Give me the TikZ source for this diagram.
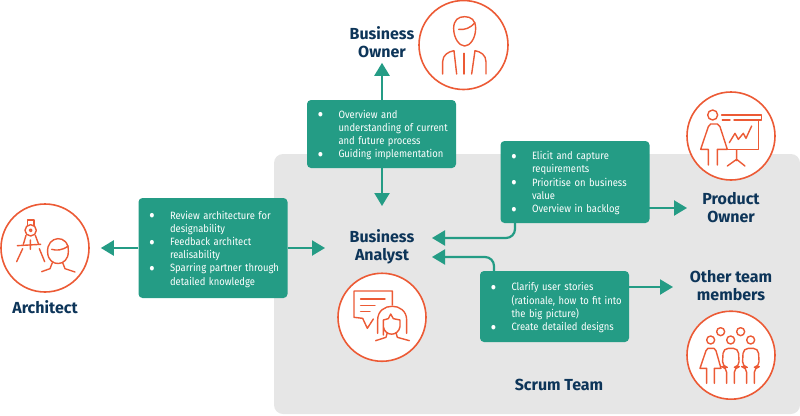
\documentclass[tikz,border=0pt]{standalone}
\usepackage{fontspec}
\usepackage{xcolor}
\setmainfont{Fira Sans}
\newfontfamily\boxfont[FakeStretch=0.89]{Fira Sans}
\usetikzlibrary{arrows.meta,positioning}
\definecolor{flowteal}{HTML}{249C85}
\definecolor{ringorange}{HTML}{EC5A35}
\definecolor{rolenavy}{HTML}{0D3559}
\definecolor{panelgrey}{HTML}{E6E6E6}
\newcommand{\bul}{\rule{0pt}{10.5pt}\makebox[26pt][l]{\hspace{8pt}\smash{\makebox[0pt]{\fontsize{20}{13.2}\selectfont\raisebox{-3.6pt}{\textbullet}}}}}
\newcommand{\cont}{\makebox[26pt]{}}

\begin{document}
\begin{tikzpicture}[x=1pt, y=-1pt,
    box/.style={rectangle, fill=flowteal, rounded corners=4pt, text=white, text width=138pt, inner xsep=5.5pt, inner ysep=0pt, align=left, font=\boxfont\fontsize{10.6}{13.2}\selectfont},
    ring/.style={circle, draw=ringorange, fill=white, line width=1.6pt, minimum size=88pt, inner sep=0pt},
    role/.style={text=rolenavy, align=center, inner sep=0pt, font=\fontsize{16}{18}\selectfont\bfseries},
    flow/.style={draw=flowteal, line width=2.2pt, -{Triangle[length=13pt,width=15pt]}},
    icon/.style={draw=ringorange, line width=1.4pt, line join=round, line cap=round},
    zoomed/.style={x=0.3333pt, y=-0.3333pt}]
    \useasboundingbox (0,0) rectangle (800,415);
    \fill[panelgrey, rounded corners=9pt] (274,154) rectangle (800,414);

    \node[ring] (archring) at (45,248) {};
    \node[role, below=8pt of archring] (archlabel) {Architect};
    \node[box, minimum height=100pt, right=48.5pt of archring] (archbox) {\bul Review architecture for\\\cont designability\\\bul Feedback architect\\\cont realisability\\\bul Sparring partner through\\\cont detailed knowledge};

    \node[role] (balabel) at (382,247) {Business\\Analyst};
    \node[ring, below=8pt of balabel] (baring) {};
    \coordinate (batop) at (432,238);
    \coordinate (balow) at (432,257);
    \coordinate (bawest) at (325,248);
    \coordinate (banorth) at (382,206);

    \node[role] (bolabel) at (382,42) {Business\\Owner};
    \node[ring, minimum size=89pt] (boring) at (463.5,45) {};
    \node[box, minimum height=68pt] (bobox) at (381.5,134) {\bul Overview and\\\cont understanding of current\\\cont and future process\\\bul Guiding implementation};

    \node[ring] (poring) at (731,136) {};
    \node[role, below=11pt of poring] (polabel) {Product\\Owner};
    \node[box, minimum height=82pt] (pobox) at (575,182) {\bul Elicit and capture\\\cont requirements\\\bul Prioritise on business\\\cont value\\\bul Overview in backlog};
    \coordinate (poeast) at (649,208);
    \coordinate (potip) at (687,208);
    \coordinate (pofoot) at (515,223);

    \node[role] (otherlabel) at (731,286) {Other team\\members};
    \node[ring, below=9pt of otherlabel] (otherring) {};
    \node[box, minimum height=71pt] (clarbox) at (554.5,306.5) {\bul Clarify user stories\\\cont (rationale, how to fit into\\\cont the big picture)\\\bul Create detailed designs};
    \coordinate (clareast) at (629,287);
    \coordinate (clartip) at (673,287);
    \coordinate (clarhead) at (494,271);

    \node[role] (scrumlabel) at (559,385) {Scrum Team};

    \draw[flow] (archbox.west) -- ++(-37.5,0) coordinate (archtip);
    \draw[flow] (archbox.east) -- (bawest);
    \draw[flow] (bobox.north -| bolabel) -- ++(0,-37) coordinate (botip);
    \draw[flow] (bobox.south -| banorth) -- (banorth);
    \draw[flow] (poeast) -- (potip);
    \draw[flow, rounded corners=9pt] (pofoot) |- (batop);
    \draw[flow] (clareast) -- (clartip);
    \draw[flow, rounded corners=9pt] (clarhead) |- (balow);

    % architect
    \begin{scope}[shift={(0,190)}, zoomed]
        \draw[icon] (83,107) -- (83,90) -- (102,90) -- (102,107);
        \draw[icon] (92,121) circle (17) (92,121) circle (4);
        \draw[icon] (78,136) -- (70,163) (106,136) -- (116,163);
        \draw[icon] (52,167) -- (122,163) (91,150) -- (91,178);
        \draw[icon] (68,176) -- (50,215) (118,176) -- (134,215);
        \draw[icon] (143,188) .. controls (138,135) and (208,130) .. (205,185) .. controls (205,232) and (145,232) .. (143,188);
        \draw[icon] (155,178) .. controls (170,182) and (185,182) .. (205,168);
        \draw[icon] (125,245) -- (150,236) -- (157,218) (188,218) -- (195,236) -- (225,246);
    \end{scope}
    % business owner
    \begin{scope}[shift={(300,0)}, zoomed]
        \draw[icon] (461,85) .. controls (461,60) and (475,50) .. (494,50) .. controls (513,50) and (527,60) .. (527,85) .. controls (527,115) and (510,138) .. (494,138) .. controls (478,138) and (461,115) .. (461,85) -- cycle;
        \draw[icon] (476,88) .. controls (495,90) and (510,85) .. (525,68);
        \draw[icon] (428,222) -- (428,185) .. controls (428,165) and (445,155) .. (462,152) -- (470,222);
        \draw[icon] (492,160) -- (492,222);
        \draw[icon] (558,222) -- (558,185) .. controls (558,165) and (542,155) .. (525,152) -- (515,222);
    \end{scope}
    % product owner
    \begin{scope}[shift={(490,90)}, zoomed]
        \draw[icon] (668,75) circle (15);
        \draw[icon] (655,225) -- (655,178) -- (632,178) -- (655,110) -- (662,102) -- (682,102) -- (690,110) -- (712,178) -- (682,178) -- (682,225);
        \draw[icon] (695,75) -- (815,75) -- (815,90) -- (732,90) (697,90) -- (720,90);
        \draw[icon] (805,90) -- (805,178) -- (715,178);
        \draw[icon] (718,158) -- (735,130) -- (745,148) -- (760,130) -- (768,145) -- (785,108);
        \draw[icon] (740,180) -- (740,212) (712,228) -- (740,208) -- (765,228);
    \end{scope}
    % business analyst
    \begin{scope}[shift={(330,220)}, zoomed]
        \draw[icon] (187,255) -- (187,213) -- (72,213) -- (72,292) -- (98,295) -- (112,325) -- (130,297);
        \draw[icon] (92,237) -- (165,237) (92,257) -- (135,257) (92,275) -- (120,275);
        \draw[icon] (143,340) -- (143,300) .. controls (143,245) and (230,245) .. (230,300) -- (230,340);
        \draw[icon] (160,345) -- (160,300) -- (175,296) -- (182,282) -- (190,296) -- (210,300) -- (210,320) .. controls (205,350) and (165,350) .. (160,320);
        \draw[icon] (137,362) -- (168,352) -- (172,338) (198,338) -- (202,352) -- (238,362);
    \end{scope}
    % other team members
    \begin{scope}[shift={(470,250)}, zoomed]
        \foreach \headx/\heady in {722/270, 752/245, 782/270, 812/245, 842/270}
            \draw[icon] (\headx,\heady) circle (12);
        \draw[icon] (710,400) -- (710,355) -- (690,355) -- (708,302) -- (714,295) -- (732,295) -- (738,302) -- (753,355) -- (733,355) -- (733,400);
        \foreach \bodyx in {0, 60}
            \draw[icon, shift={(\bodyx,0)}, rounded corners=5pt] (770,400) -- (770,352) -- (757,350) -- (760,295) -- (805,295) -- (808,350) -- (793,352) -- (793,400);
    \end{scope}
\end{tikzpicture}
\end{document}
